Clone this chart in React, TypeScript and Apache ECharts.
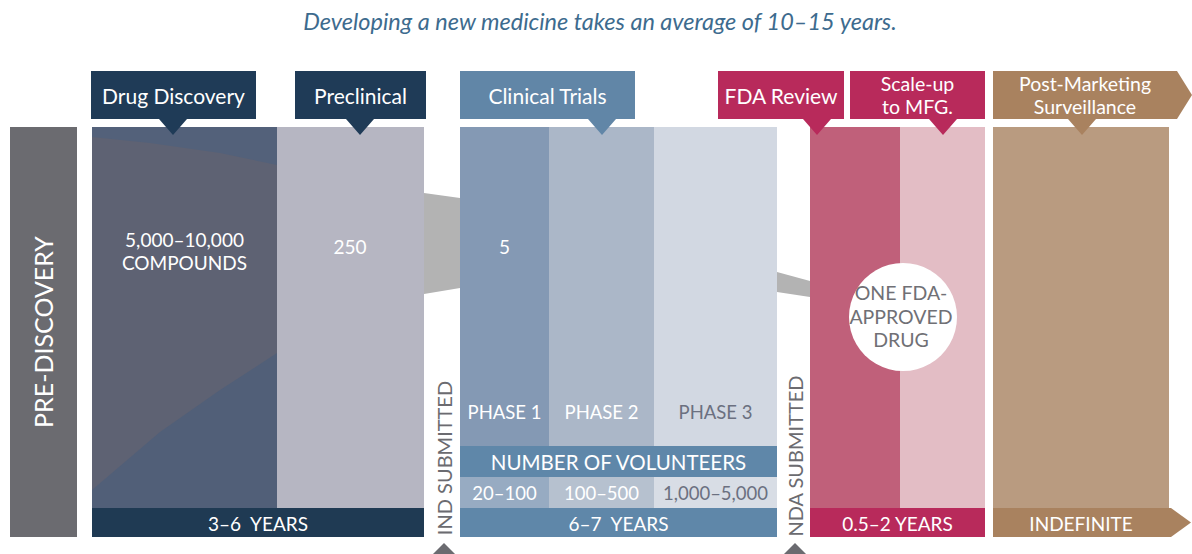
import React, { useEffect, useRef } from "react";
import * as echarts from "echarts";

// ---------- content (texts of the infographic) ----------
const headline = "Developing a new medicine takes an average of 10–15 years.";
const preDiscoveryLabel = "PRE-DISCOVERY";
const stageNames = [
  "Drug Discovery",
  "Preclinical",
  "Clinical Trials",
  "FDA Review",
  "Scale-up\nto MFG.",
  "Post-Marketing\nSurveillance",
];
const candidateCounts = ["5,000–10,000\nCOMPOUNDS", "250", "5", "ONE FDA-\nAPPROVED\nDRUG"];
const phaseLabels = ["PHASE 1", "PHASE 2", "PHASE 3"];
const volunteerHeader = "NUMBER OF VOLUNTEERS";
const volunteerRanges = ["20–100", "100–500", "1,000–5,000"];
const durations = ["3–6  YEARS", "6–7  YEARS", "0.5–2 YEARS", "INDEFINITE"];
const milestones = ["IND SUBMITTED", "NDA SUBMITTED"];

// ---------- layout (in the 1192 x 554 value space of hidden axes) ----------
const TAB_TOP = 71;
const TAB_BOTTOM = 119;
const PANEL_TOP = 127;
const PANEL_BOTTOM = 508;
const BAR_BOTTOM = 537;
const FONT = "Lato, 'Open Sans', sans-serif";

const tabLayout = [
  { x0: 91, x1: 256, px: 173, fill: "#1f3b57" },
  { x0: 295, x1: 426, px: 360, fill: "#1f3b57" },
  { x0: 460, x1: 635, px: 602, fill: "#6186a7" },
  { x0: 718, x1: 844, px: 817, fill: "#b82a5b" },
  { x0: 850, x1: 985, px: 943, fill: "#b82a5b" },
  { x0: 993, x1: 1177, px: 1082, fill: "#a9825f", arrow: 1192 },
];

type Shape =
  | { kind: "rect"; x0: number; y0: number; x1: number; y1: number; fill: string }
  | { kind: "poly"; pts: number[][]; fill: string }
  | { kind: "circle"; cx: number; cy: number; r: number; fill: string }
  | {
      kind: "text";
      x: number;
      y: number;
      text: string;
      fill: string;
      size: number;
      rot?: number;
      italic?: boolean;
      lh?: number;
    };

const shapes: Shape[] = [];
const rect = (x0: number, y0: number, x1: number, y1: number, fill: string) =>
  shapes.push({ kind: "rect", x0, y0, x1, y1, fill });
const poly = (pts: number[][], fill: string) => shapes.push({ kind: "poly", pts, fill });
const text = (
  x: number,
  y: number,
  t: string,
  fill: string,
  size: number,
  extra: { rot?: number; italic?: boolean; lh?: number } = {}
) => shapes.push({ kind: "text", x, y, text: t, fill, size, ...extra });

// pre-discovery column
rect(10, PANEL_TOP, 77, BAR_BOTTOM, "#6b6b70");

// drug discovery panel with subtle shading
rect(92, PANEL_TOP, 277, PANEL_BOTTOM, "#5e6273");
poly(
  [
    [92, PANEL_TOP],
    [277, PANEL_TOP],
    [277, 165],
    [220, 153],
    [150, 143],
    [92, 137],
  ],
  "#53617a"
);
poly(
  [
    [92, PANEL_BOTTOM],
    [92, 490],
    [160, 432],
    [220, 390],
    [277, 353],
    [277, PANEL_BOTTOM],
  ],
  "#515f78"
);
// preclinical
rect(277, PANEL_TOP, 424, PANEL_BOTTOM, "#b6b6c2");
rect(92, PANEL_BOTTOM, 424, BAR_BOTTOM, "#1f3a53");

// connector preclinical -> clinical
poly(
  [
    [424, 193],
    [460, 198],
    [460, 288],
    [424, 294],
  ],
  "#b3b3b3"
);

// clinical trials phases
const phaseCols = [
  { x0: 460, x1: 549, fill: "#8499b4", cell: "#97abc2", tc: "#ffffff" },
  { x0: 549, x1: 654, fill: "#abb7c8", cell: "#b6c1cf", tc: "#ffffff" },
  { x0: 654, x1: 777, fill: "#d2d8e2", cell: "#d8dde5", tc: "#6b7080" },
];
phaseCols.forEach((c) => {
  rect(c.x0, PANEL_TOP, c.x1, 446, c.fill);
  rect(c.x0, 477, c.x1, PANEL_BOTTOM, c.cell);
});
rect(460, 446, 777, 477, "#5f87a9");
rect(460, PANEL_BOTTOM, 777, BAR_BOTTOM, "#5f87a9");

// connector clinical -> FDA
poly(
  [
    [777, 272],
    [810, 281],
    [810, 297],
    [777, 292],
  ],
  "#b3b3b3"
);

// FDA review + scale-up
rect(810, PANEL_TOP, 900, PANEL_BOTTOM, "#c0607a");
rect(900, PANEL_TOP, 985, PANEL_BOTTOM, "#e3bdc5");
rect(810, PANEL_BOTTOM, 985, BAR_BOTTOM, "#b82a5b");

// post-marketing
rect(993, PANEL_TOP, 1169, PANEL_BOTTOM, "#b99b80");
poly(
  [
    [993, PANEL_BOTTOM],
    [1171, PANEL_BOTTOM],
    [1191, 522.5],
    [1171, BAR_BOTTOM],
    [993, BAR_BOTTOM],
  ],
  "#a9825f"
);

// tabs with pointers
tabLayout.forEach((t) => {
  const pts: number[][] = [[t.x0, TAB_TOP], [t.x1, TAB_TOP]];
  if (t.arrow) pts.push([t.arrow, (TAB_TOP + TAB_BOTTOM) / 2]);
  pts.push([t.x1, TAB_BOTTOM], [t.px + 14, TAB_BOTTOM], [t.px, 135], [t.px - 14, TAB_BOTTOM], [t.x0, TAB_BOTTOM]);
  poly(pts, t.fill);
});

// circle
shapes.push({ kind: "circle", cx: 903, cy: 317, r: 54, fill: "#ffffff" });

// milestone triangles
[444, 795].forEach((x) =>
  poly(
    [
      [x, 543],
      [x + 11, 554],
      [x - 11, 554],
    ],
    "#6b6b70"
  )
);

// ---------- texts ----------
text(600, 21, headline, "#3d6b8e", 23.5, { italic: true });
tabLayout.forEach((t, i) => {
  const cx = (t.x0 + t.x1) / 2;
  const twoLines = stageNames[i].includes("\n");
  text(cx, 95, stageNames[i], "#ffffff", twoLines ? 19.5 : 21, { lh: twoLines ? 23.5 : 24 });
});
text(43, 332, preDiscoveryLabel, "#ffffff", 25, { rot: Math.PI / 2 });
text(184.5, 251, candidateCounts[0], "#ffffff", 19, { lh: 23 });
text(350, 246, candidateCounts[1], "#ffffff", 19);
text(504.5, 246, candidateCounts[2], "#ffffff", 19);
text(901, 316, candidateCounts[3], "#707075", 19.5, { lh: 23.5 });
phaseCols.forEach((c, i) => {
  const cx = (c.x0 + c.x1) / 2;
  text(cx, 412, phaseLabels[i], c.tc, 18.5);
  text(cx, 493, volunteerRanges[i], c.tc, 18.5);
});
text(618.5, 462, volunteerHeader, "#ffffff", 20.5);
text(258, 523, durations[0], "#ffffff", 19);
text(618.5, 523, durations[1], "#ffffff", 19);
text(897.5, 523, durations[2], "#ffffff", 19);
text(1081, 523, durations[3], "#ffffff", 19);
text(444, 458, milestones[0], "#6b6b70", 20, { rot: Math.PI / 2 });
text(795, 456, milestones[1], "#6b6b70", 20, { rot: Math.PI / 2 });

export default function App() {
  const ref = useRef<HTMLDivElement>(null);
  useEffect(() => {
    if (!ref.current) return;
    const chart = echarts.init(ref.current, undefined, { renderer: "svg" });
    chart.setOption({
      animation: false,
      backgroundColor: "#ffffff",
      grid: { left: 0, right: 0, top: 0, bottom: 0 },
      xAxis: { type: "value", min: 0, max: 1192, show: false },
      yAxis: { type: "value", min: 0, max: 554, inverse: true, show: false },
      series: [
        {
          type: "custom",
          silent: true,
          clip: false,
          data: shapes.map((_, i) => [i, 0]),
          renderItem: (params: any, api: any) => {
            const s = shapes[params.dataIndex];
            if (s.kind === "rect") {
              const a = api.coord([s.x0, s.y0]);
              const b = api.coord([s.x1, s.y1]);
              return {
                type: "rect",
                shape: { x: a[0], y: a[1], width: b[0] - a[0], height: b[1] - a[1] },
                style: { fill: s.fill },
              };
            }
            if (s.kind === "poly") {
              return {
                type: "polygon",
                shape: { points: s.pts.map((p) => api.coord(p)) },
                style: { fill: s.fill },
              };
            }
            if (s.kind === "circle") {
              const c = api.coord([s.cx, s.cy]);
              const r = api.size([s.r, 0])[0];
              return { type: "circle", shape: { cx: c[0], cy: c[1], r }, style: { fill: s.fill } };
            }
            const p = api.coord([s.x, s.y]);
            return {
              type: "text",
              x: p[0],
              y: p[1],
              rotation: s.rot || 0,
              style: {
                text: s.text,
                fill: s.fill,
                fontSize: s.size,
                fontFamily: FONT,
                fontStyle: s.italic ? "italic" : "normal",
                align: "center",
                verticalAlign: "middle",
                lineHeight: s.lh || Math.round(s.size * 1.2),
              },
            };
          },
        },
      ],
    });
    return () => chart.dispose();
  }, []);
  return (
    <div
      ref={ref}
      style={{ position: "absolute", left: 0, top: 0, width: 1192, height: 554 }}
    />
  );
}
